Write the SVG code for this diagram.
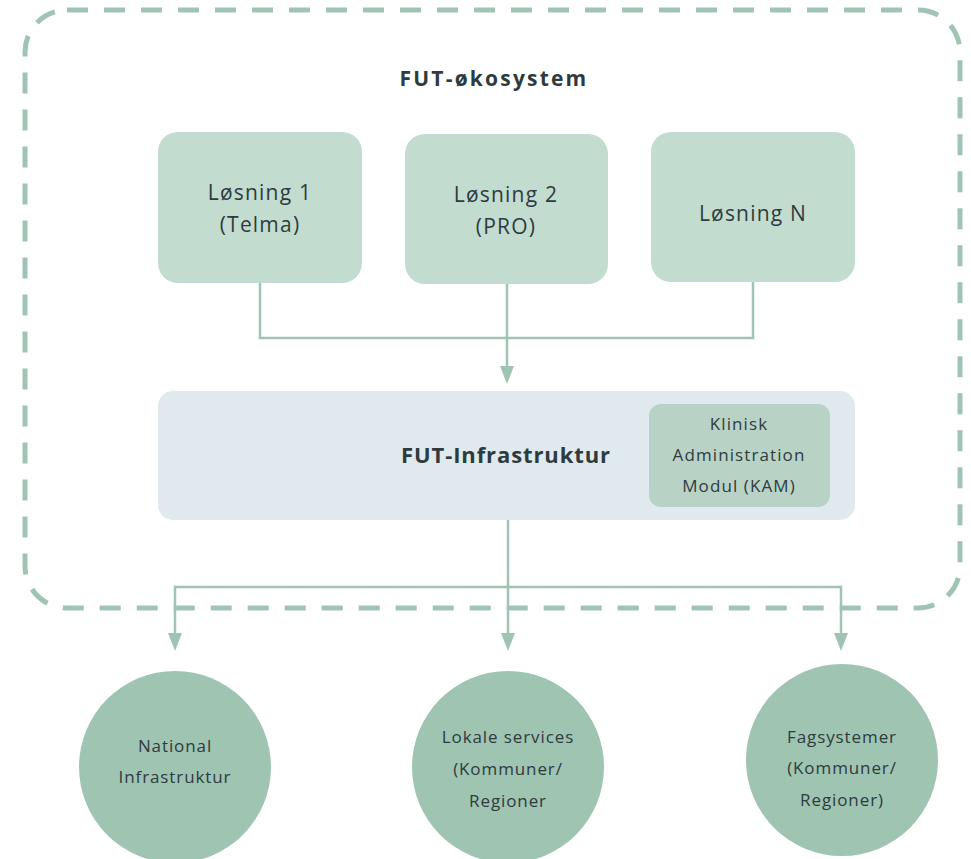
<svg xmlns="http://www.w3.org/2000/svg" width="971" height="859" viewBox="0 0 971 859">
<defs>
<style>
.t{font-family:"Open Sans","DejaVu Sans",sans-serif;fill:#2e3b3e;text-anchor:middle}
.b{font-weight:700}
.l{font-size:21px;letter-spacing:1.2px}
.s{font-size:17px;letter-spacing:0.9px}
.k{font-size:17px;letter-spacing:1.1px}
.box{fill:#c3dcd0}
.circ{fill:#9fc4b2}
.con{fill:none;stroke:#a0c4b3;stroke-width:2.5}
</style>
</defs>
<rect width="971" height="859" fill="#ffffff"/>
<g id="container">
<rect x="25" y="10" width="935" height="598" rx="42" fill="none" stroke="#a0c4b3" stroke-width="5" stroke-dasharray="21 16"/>
<text class="t b" x="494" y="86" font-size="21" letter-spacing="2.2">FUT-økosystem</text>
</g>
<g id="connectors">
<polyline class="con" points="260,283 260,338 753,338 753,282"/>
<line class="con" x1="507" y1="284" x2="507" y2="367"/>
<path d="M500,366 L514,366 L507,384 Z" fill="#a0c4b3"/>
<line class="con" x1="508" y1="520" x2="508" y2="634"/>
<polyline class="con" points="175,634 175,587 841,587 841,634"/>
<path d="M168,633 L182,633 L175,651 Z" fill="#a0c4b3"/>
<path d="M501,633 L515,633 L508,651 Z" fill="#a0c4b3"/>
<path d="M834,633 L848,633 L841,651 Z" fill="#a0c4b3"/>
</g>
<g id="losning1">
<rect class="box" x="158" y="132" width="204" height="151" rx="20"/>
<text class="t l" x="260" y="200">Løsning 1</text>
<text class="t l" x="260" y="232">(Telma)</text>
</g>
<g id="losning2">
<rect class="box" x="405" y="134" width="203" height="150" rx="20"/>
<text class="t l" x="506" y="202">Løsning 2</text>
<text class="t l" x="506" y="234">(PRO)</text>
</g>
<g id="losningN">
<rect class="box" x="651" y="132" width="204" height="150" rx="20"/>
<text class="t l" x="753" y="221">Løsning N</text>
</g>
<g id="infrastruktur">
<rect x="158" y="391" width="697" height="129" rx="15" fill="#dfe9ee"/>
<text class="t b" x="506" y="463" font-size="22" letter-spacing="0.9">FUT-Infrastruktur</text>
</g>
<g id="kam">
<rect x="649" y="404" width="181" height="103" rx="12" fill="#b8d3c6"/>
<text class="t k" x="739" y="430">Klinisk</text>
<text class="t k" x="739" y="461">Administration</text>
<text class="t k" x="739" y="492">Modul (KAM)</text>
</g>
<g id="national">
<circle class="circ" cx="175" cy="767" r="96"/>
<text class="t s" x="175" y="752">National</text>
<text class="t s" x="175" y="783">Infrastruktur</text>
</g>
<g id="lokale">
<circle class="circ" cx="508" cy="767" r="96"/>
<text class="t s" x="508" y="743">Lokale services</text>
<text class="t s" x="508" y="775">(Kommuner/</text>
<text class="t s" x="508" y="807">Regioner</text>
</g>
<g id="fagsystemer">
<circle class="circ" cx="842" cy="760" r="96"/>
<text class="t s" x="842" y="743">Fagsystemer</text>
<text class="t s" x="842" y="774">(Kommuner/</text>
<text class="t s" x="842" y="806">Regioner)</text>
</g>
</svg>
